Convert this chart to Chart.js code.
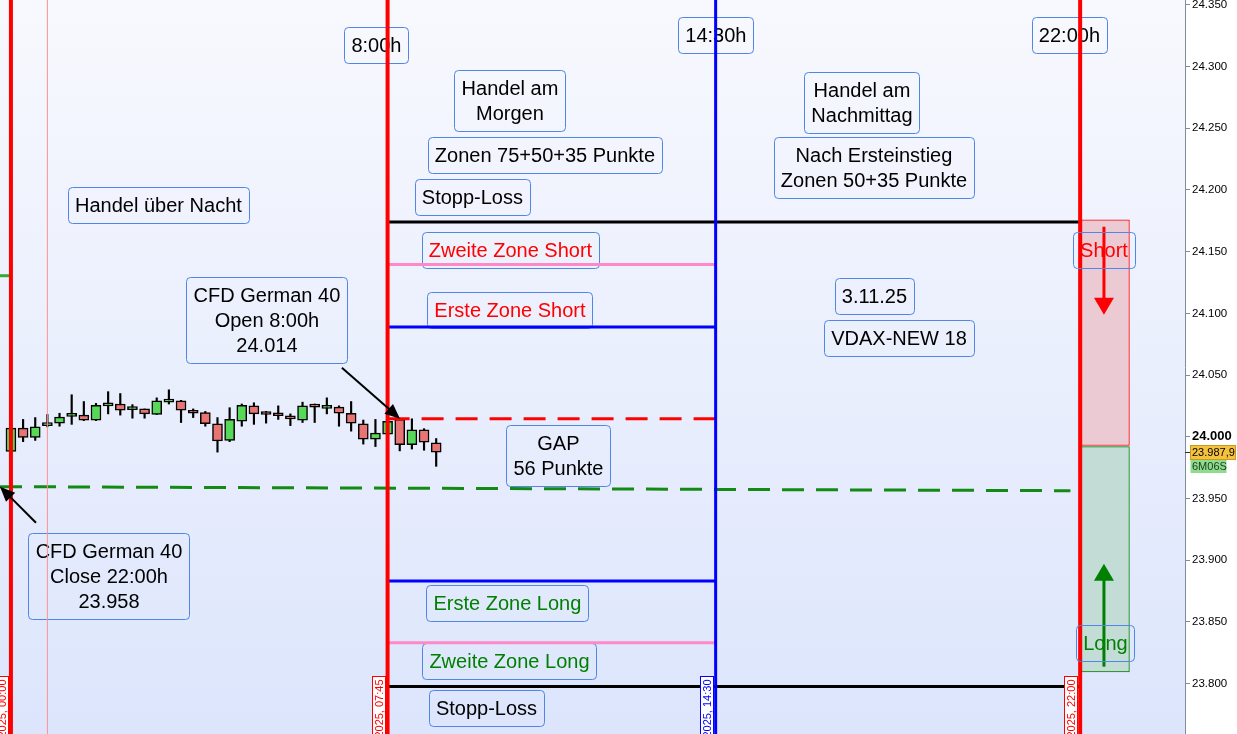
<!DOCTYPE html>
<html><head><meta charset="utf-8">
<script src="https://cdn.jsdelivr.net/npm/chart.js@4/dist/chart.umd.min.js"></script>
<style>html,body{margin:0;padding:0;background:#fff;}#wrap{width:1237px;height:734px;position:relative;}</style>
</head><body><div id="wrap"><canvas id="c"></canvas></div>
<script>
// ---- data (15-minute candles, 03.11.2025, index 0 = 00:00) ----
const candleIndex = [0,1,2,3,4,5,6,7,8,9,10,11,12,13,14,15,16,17,18,19,20,21,22,23,24,25,26,27,28,29,30,31,32,33,34,35];
const opens  = [23988,24007,23999.5,24009,24011,24016.5,24017.5,24013.5,24025,24026.5,24022,24022.5,24018,24028,24029,24021,24019.5,24010.5,23997,24012.5,24025,24018.5,24017.5,24016,24013.5,24024.5,24023,24024,24019,24010.5,23998,24002,24014,23993.5,24005.5,23995];
const highs  = [24007,24014,24015.5,24018,24019,24034,24028.5,24027,24036.5,24035,24026,24022.5,24031.5,24038,24029.5,24022.5,24020.5,24015.5,24023.5,24026.5,24027.5,24020.5,24025,24018.5,24028,24026.5,24031.5,24025,24028.5,24013.5,24014,24014,24015,24014.5,24006.5,23998.5];
const lows   = [23988,23996,23997,24008,24008.5,24010,24013,24013,24018.5,24017.5,24015,24015,24018,24026.5,24011.5,24015.5,24008.5,23987.5,23996,24008.5,24010,24011,24014,24009,24011.5,24011.5,24018.5,24008.5,24004.5,23994,23992,24001,23988.5,23990,23989,23976];
const closes = [24007,23999.5,24008,24009.5,24016,24017,24013.5,24025.5,24025.5,24021.5,24022.5,24018.5,24029,24030,24021.5,24019,24010.5,23996.5,24014,24025.5,24018.5,24018,24017,24014.5,24025,24024,24025,24019,24011,23998,24003,24012.5,23993.5,24005.5,23995.5,23987.5];

// zone levels (start index 31 = 07:45)
const levelNames  = ['Stopp-Loss Short','Zweite Zone Short','Erste Zone Short','Open 8:00h','Erste Zone Long','Zweite Zone Long','Stopp-Loss Long'];
const levelValues = [24174, 24139.5, 24089, 24014.5, 23883, 23833, 23797.5];
const levelStart  = [31, 31, 31, 31, 31, 31, 31];
const levelEnd    = [88, 58, 58, 58, 58, 58, 88];

// previous close line (23.958)
const closeLineIdx = [-0.9, 87.2];
const closeLineVal = [23959.5, 23956.2];
const prevSegIdx = [-0.9, -0.05];
const prevSegVal = [24130.5, 24130.5];

// vertical time markers
const markerIdx    = [0, 3, 31, 58, 88];
const markerLabels = ['03.11.2025, 00:00', '', '03.11.2025, 07:45', '03.11.2025, 14:30', '03.11.2025, 22:00'];

// trade direction zones
const zoneIdx   = 90.08;
const shortZone = [23992.9, 24175.9];
const longZone  = [23809.3, 23991.9];

// arrows [x1, y1, x2(tip), y2(tip)]
const arrowOpen  = [27.24, 24055.9, 32.02, 24014.6];
const arrowClose = [2.06, 23930.3, -0.9, 23959.5];
const arrowShort = [89.96, 24170.2, 89.96, 24098.9];
const arrowLong  = [89.96, 23813.6, 89.96, 23897.1];

// y axis
const yMin = 23759, yMax = 24354;
const xMin = -0.9, xMax = 96.63;
const yTicks = [23800, 23850, 23900, 23950, 24000, 24050, 24100, 24150, 24200, 24250, 24300, 24350];
const lastPrice = 23987.9;
const lastPriceText = '23.987,9';
const countdownText = '6M06S';

// text notes (anchor in index / price)
const noteTexts = ['8:00h','14:30h','22:00h','Handel am\nMorgen','Handel am\nNachmittag','Zonen 75+50+35 Punkte','Nach Ersteinstieg\nZonen 50+35 Punkte','Stopp-Loss','Handel über Nacht','Zweite Zone Short','Erste Zone Short','CFD German 40\nOpen 8:00h\n24.014','3.11.25','VDAX-NEW 18','GAP\n56 Punkte','CFD German 40\nClose 22:00h\n23.958','Erste Zone Long','Zweite Zone Long','Stopp-Loss','Short','Long'];
const noteX = [30.08,58.02,87.12,41.07,70.04,43.95,71.03,37.98,12.14,41.11,41.07,21.07,71.07,73.09,45.06,8.07,40.86,41.03,39.14,89.96,90.08];
const noteY = [24317.7,24325.8,24325.8,24272.3,24270.7,24228.5,24218.4,24194.5,24187.6,24151.5,24102.9,24094.8,24114.3,24080.2,23984.6,23887.4,23865.5,23818.1,23780.4,24151.5,23832.7];
const noteColor = ['k','k','k','k','k','k','k','k','k','r','r','k','k','k','k','k','g','g','k','r','g'];
const noteOverlay = [0,0,0,0,0,0,0,0,0,0,0,0,0,0,0,0,0,0,0,1,1];

// ---- chart ----
const FONT = '"Liberation Sans", Arial, sans-serif';
const COLORS = {k:'#000000', r:'#ff0000', g:'#008000'};

const datasets = [];
datasets.push({type:'bar', label:'short', data:[{x:zoneIdx, y:shortZone}], backgroundColor:'#eccad4', borderColor:'#ff0000', borderWidth:1, borderSkipped:false, barThickness:48, grouped:false, order:9});
datasets.push({type:'bar', label:'long', data:[{x:zoneIdx, y:longZone}], backgroundColor:'#c3ddd6', borderColor:'#008000', borderWidth:1, borderSkipped:false, barThickness:48, grouped:false, order:9});
datasets.push({type:'bar', label:'wick', data:candleIndex.map((x,i)=>({x, y:[lows[i], highs[i]]})), backgroundColor:'#000', borderWidth:0, barThickness:1.5, grouped:false, order:8});
datasets.push({type:'bar', label:'body', data:candleIndex.map((x,i)=>({x, y:[opens[i], closes[i]]})),
  backgroundColor:candleIndex.map((x,i)=>closes[i]>=opens[i]?'#58d858':'#e87474'),
  borderColor:'#000', borderWidth:1.5, borderSkipped:false, barThickness:10, minBarLength:3, grouped:false, order:7});

function lineDs(label, pts, color, width, dash, order){
  return {type:'line', label, data:pts, borderColor:color, borderWidth:width, borderDash:dash||[], pointRadius:0, fill:false, tension:0, order:order||2};
}
datasets.push(lineDs('close', closeLineIdx.map((x,i)=>({x, y:closeLineVal[i]})), '#138a13', 3, [22,12]));
datasets.push(lineDs('prev', prevSegIdx.map((x,i)=>({x, y:prevSegVal[i]})), '#33aa33', 3));
const levelStyles = {
  'Stopp-Loss Short':['#000',3,[]], 'Zweite Zone Short':['#ff88c8',3,[]], 'Erste Zone Short':['#0000ff',3,[]],
  'Open 8:00h':['#ff0000',3,[22,12]], 'Erste Zone Long':['#0000ff',3,[]], 'Zweite Zone Long':['#ff88c8',3,[]], 'Stopp-Loss Long':['#000',3,[]]
};
levelNames.forEach((n,i)=>{
  const s = levelStyles[n];
  datasets.push(lineDs(n, [{x:levelStart[i], y:levelValues[i]},{x:levelEnd[i], y:levelValues[i]}], s[0], s[1], s[2]));
});
const markerStyles = [['#ff0000',4],['#ff9090',1],['#ff0000',4],['#0000ff',3],['#ff0000',4]];
markerIdx.forEach((m,i)=>{
  datasets.push(lineDs('v'+i, [{x:m, y:yMin-50},{x:m, y:yMax+50}], markerStyles[i][0], markerStyles[i][1], [], 1));
});

function drawArrow(ctx, chart, a, color, lw, headLen, headW){
  const xs = chart.scales.x, ys = chart.scales.y;
  const x1 = xs.getPixelForValue(a[0]), y1 = ys.getPixelForValue(a[1]);
  const x2 = xs.getPixelForValue(a[2]), y2 = ys.getPixelForValue(a[3]);
  const ang = Math.atan2(y2-y1, x2-x1);
  const bx = x2 - Math.cos(ang)*headLen, by = y2 - Math.sin(ang)*headLen;
  ctx.save();
  ctx.strokeStyle = color; ctx.fillStyle = color; ctx.lineWidth = lw;
  ctx.beginPath(); ctx.moveTo(x1,y1); ctx.lineTo(bx + Math.cos(ang)*2, by + Math.sin(ang)*2); ctx.stroke();
  ctx.beginPath();
  ctx.moveTo(x2,y2);
  ctx.lineTo(bx + Math.sin(ang)*headW/2, by - Math.cos(ang)*headW/2);
  ctx.lineTo(bx - Math.sin(ang)*headW/2, by + Math.cos(ang)*headW/2);
  ctx.closePath(); ctx.fill();
  ctx.restore();
}

function roundRect(ctx, x, y, w, h, r){
  ctx.beginPath();
  ctx.moveTo(x+r,y); ctx.lineTo(x+w-r,y); ctx.quadraticCurveTo(x+w,y,x+w,y+r);
  ctx.lineTo(x+w,y+h-r); ctx.quadraticCurveTo(x+w,y+h,x+w-r,y+h);
  ctx.lineTo(x+r,y+h); ctx.quadraticCurveTo(x,y+h,x,y+h-r);
  ctx.lineTo(x,y+r); ctx.quadraticCurveTo(x,y,x+r,y); ctx.closePath();
}

function drawNotes(chart, overlay){
  const ctx = chart.ctx, xs = chart.scales.x, ys = chart.scales.y;
  ctx.save();
  ctx.font = '20px ' + FONT;
  noteTexts.forEach((t,i)=>{
    if (noteOverlay[i] !== overlay) return;
    const lines = t.split('\n');
    const lh = 25;
    const tw = Math.max(...lines.map(l=>ctx.measureText(l).width));
    const w = Math.round(tw + 14), h = lines.length*lh + 11;
    const cx = xs.getPixelForValue(noteX[i]), cy = ys.getPixelForValue(noteY[i]);
    const x0 = Math.round(cx - w/2) + 0.5, y0 = Math.round(cy - h/2) + 0.5;
    roundRect(ctx, x0, y0, w, h, 4);
    ctx.strokeStyle = '#4f86e8'; ctx.lineWidth = 1; ctx.stroke();
    ctx.fillStyle = COLORS[noteColor[i]];
    ctx.textAlign = 'center'; ctx.textBaseline = 'middle';
    lines.forEach((l,j)=>{
      ctx.fillText(l, cx, y0 + 5.5 + lh*j + lh/2 + 1);
    });
  });
  ctx.restore();
}

const annoPlugin = {
  id:'anno',
  beforeDraw(chart){
    const {ctx, chartArea:a, width, height} = chart;
    ctx.save();
    ctx.fillStyle = '#ffffff'; ctx.fillRect(0,0,width,height);
    const g = ctx.createLinearGradient(0,a.top,0,a.bottom);
    g.addColorStop(0,'#f8f9fe'); g.addColorStop(1,'#dce5fc');
    ctx.fillStyle = g; ctx.fillRect(a.left,a.top,a.right-a.left,a.bottom-a.top);
    ctx.restore();
  },
  beforeDatasetsDraw(chart){ drawNotes(chart, 0); },
  afterDatasetsDraw(chart){
    const ctx = chart.ctx, a = chart.chartArea;
    ctx.save();
    ctx.beginPath(); ctx.rect(a.left, a.top, a.right-a.left, a.bottom-a.top); ctx.clip();
    drawArrow(ctx, chart, arrowOpen, '#000', 2, 15, 13);
    drawArrow(ctx, chart, arrowClose, '#000', 2, 15, 13);
    drawArrow(ctx, chart, arrowShort, '#ff0000', 3, 17, 20);
    drawArrow(ctx, chart, arrowLong, '#008000', 3, 17, 20);
    ctx.restore();
    drawNotes(chart, 1);
    // rotated time labels at the bottom
    const xs = chart.scales.x;
    ctx.save();
    ctx.font = '11px ' + FONT;
    markerIdx.forEach((m,i)=>{
      const t = markerLabels[i];
      if (!t) return;
      const col = markerStyles[i][0];
      const lx = xs.getPixelForValue(m) - markerStyles[i][1]/2;
      const bx = Math.round(lx - 14) + 0.5, by = 676.5;
      ctx.fillStyle = '#ffffff'; ctx.fillRect(bx, by, 13, a.bottom - by + 2);
      ctx.strokeStyle = col; ctx.lineWidth = 1; ctx.strokeRect(bx, by, 13, a.bottom - by + 2);
      ctx.save();
      ctx.translate(bx + 7, by + 3);
      ctx.rotate(-Math.PI/2);
      ctx.textAlign = 'right'; ctx.textBaseline = 'middle'; ctx.fillStyle = col;
      ctx.fillText(t, 0, 0);
      ctx.restore();
    });
    ctx.restore();
  },
  afterDraw(chart){
    const ctx = chart.ctx, ys = chart.scales.y, a = chart.chartArea;
    const py = Math.round(ys.getPixelForValue(lastPrice));
    ctx.save();
    ctx.strokeStyle = '#333'; ctx.lineWidth = 1;
    ctx.beginPath(); ctx.moveTo(a.right, py+0.5); ctx.lineTo(a.right+5, py+0.5); ctx.stroke();
    ctx.fillStyle = '#f5c23e'; ctx.fillRect(a.right+5.5, py-7, 45, 14);
    ctx.strokeStyle = '#c89a20'; ctx.strokeRect(a.right+5.5, py-6.5, 45, 14);
    ctx.fillStyle = '#8fdc8f'; ctx.fillRect(a.right+5.5, py+8, 36, 13);
    ctx.font = '11px ' + FONT; ctx.fillStyle = '#000'; ctx.textBaseline = 'middle'; ctx.textAlign = 'left';
    ctx.fillText(lastPriceText, a.right+7, py+0.5);
    ctx.fillStyle = '#1a3a1a';
    ctx.fillText(countdownText, a.right+7, py+15);
    ctx.restore();
  }
};

new Chart(document.getElementById('c'), {
  type:'line',
  data:{datasets},
  options:{
    responsive:true, maintainAspectRatio:false, animation:false,
    layout:{padding:0},
    plugins:{legend:{display:false}, tooltip:{enabled:false}},
    scales:{
      x:{type:'linear', min:xMin, max:xMax, display:false, offset:false},
      y:{type:'linear', position:'right', min:yMin, max:yMax,
        afterBuildTicks:s=>{ s.ticks = yTicks.map(v=>({value:v})); },
        afterFit:s=>{ s.width = 52; s.paddingTop = 0; s.paddingBottom = 0; },
        grid:{drawOnChartArea:false, drawTicks:true, tickLength:5, tickColor:'#7f8c99', color:'#7f8c99'},
        border:{display:true, color:'#7f8c99', width:1},
        ticks:{padding:2, color:'#000',
          font:ctx=> (ctx.tick && ctx.tick.value===24000) ? {family:FONT, size:13, weight:'bold'} : {family:FONT, size:11.5},
          callback:v=>(v/1000).toFixed(3)}
      }
    }
  },
  plugins:[annoPlugin]
});
</script>
</body></html>
